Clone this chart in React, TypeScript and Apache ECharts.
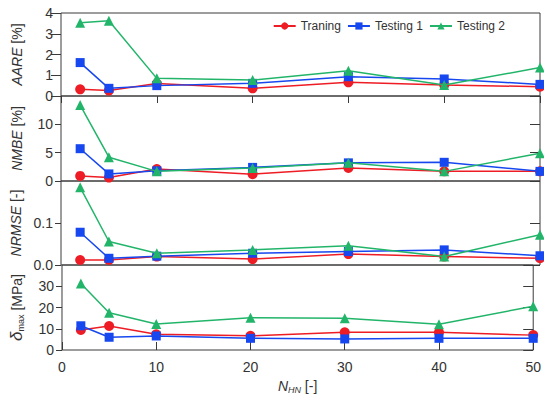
import React, { useEffect, useRef } from "react";
import * as echarts from "echarts";

const xValues = [2, 5, 10, 20, 30, 40, 50];
const seriesNames = ["Traning", "Testing 1", "Testing 2"];

const aareTraining = [0.32, 0.26, 0.6, 0.37, 0.66, 0.53, 0.45];
const aareTesting1 = [1.61, 0.37, 0.5, 0.61, 0.93, 0.82, 0.56];
const aareTesting2 = [3.53, 3.63, 0.85, 0.77, 1.22, 0.53, 1.37];

const nmbeTraining = [0.9, 0.6, 2.1, 1.2, 2.3, 1.7, 1.7];
const nmbeTesting1 = [5.7, 1.25, 1.8, 2.4, 3.2, 3.3, 1.7];
const nmbeTesting2 = [13.4, 4.2, 1.7, 2.3, 3.2, 1.7, 4.9];

const nrmseTraining = [0.012, 0.012, 0.02, 0.014, 0.026, 0.02, 0.016];
const nrmseTesting1 = [0.078, 0.016, 0.021, 0.028, 0.032, 0.036, 0.022];
const nrmseTesting2 = [0.185, 0.056, 0.028, 0.036, 0.046, 0.02, 0.072];

const deltaTraining = [9.4, 11.3, 7.4, 6.7, 8.3, 8.3, 7.0];
const deltaTesting1 = [11.4, 6.0, 6.6, 5.5, 5.2, 5.5, 5.5];
const deltaTesting2 = [31.3, 17.5, 12.2, 15.2, 14.9, 12.1, 20.6];

const xTicks = { min: 0, max: 50, interval: 10 };
const yScales = [
  { min: 0, max: 4, interval: 1 },
  { min: 0, max: 15, interval: 5 },
  { min: 0, max: 0.2, interval: 0.1 },
  { min: 0, max: 40, interval: 10 },
];
const yNames = ["{i|AARE} [%]", "{i|NMBE} [%]", "{i|NRMSE} [-]", "{i|δ}{s|max} [MPa]"];

const panels = [
  [aareTraining, aareTesting1, aareTesting2],
  [nmbeTraining, nmbeTesting1, nmbeTesting2],
  [nrmseTraining, nrmseTesting1, nrmseTesting2],
  [deltaTraining, deltaTesting1, deltaTesting2],
];

const colors = ["#ee1c24", "#1747ee", "#22b56a"];
const symbols = ["circle", "rect", "triangle"];
const symbolSizes = [10, 9, 10];

const FONT = "'Liberation Sans', Arial, sans-serif";
const TXT = "#333";

const gridBoxes = [
  { top: 13, height: 83 },
  { top: 96, height: 85 },
  { top: 181, height: 84 },
  { top: 265, height: 85 },
];

export default function App() {
  const ref = useRef<HTMLDivElement>(null);
  useEffect(() => {
    if (!ref.current) return;
    const chart = echarts.init(ref.current, null, { renderer: "svg" });

    const grid = gridBoxes.map((g) => ({
      left: 61,
      right: 4,
      top: g.top,
      height: g.height,
      show: true,
      borderColor: "#3a3a3a",
      borderWidth: 1,
      backgroundColor: "transparent",
    }));

    const xAxis: any[] = gridBoxes.map((_, i) => ({
      type: "value",
      gridIndex: i,
      ...xTicks,
      axisLine: { show: false },
      splitLine: { show: false },
      axisTick: { show: i === 3, inside: true, length: 8, lineStyle: { color: "#3a3a3a" } },
      axisLabel: {
        show: i === 3,
        fontSize: 14,
        color: TXT,
        fontFamily: FONT,
        margin: 10,
      },
      name: i === 3 ? "{i|N}{s|HN} [-]" : "",
      nameLocation: "middle",
      nameGap: 27,
      nameTextStyle: {
        fontSize: 14,
        color: TXT,
        fontFamily: FONT,
        rich: {
          i: { fontStyle: "italic", fontSize: 14, color: TXT, fontFamily: FONT },
          s: { fontStyle: "italic", fontSize: 9, color: TXT, fontFamily: FONT, verticalAlign: "bottom", padding: [8, 0, 0, 0] },
        },
      },
    }));
    xAxis.push({
      type: "value",
      gridIndex: 0,
      position: "top",
      ...xTicks,
      axisLine: { show: false },
      splitLine: { show: false },
      axisTick: { show: true, inside: true, length: 7, lineStyle: { color: "#3a3a3a" } },
      axisLabel: { show: false },
    });

    const yAxis: any[] = [];
    yScales.forEach((sc, i) => {
      yAxis.push({
        type: "value",
        gridIndex: i,
        ...sc,
        position: "left",
        axisLine: { show: false },
        splitLine: { show: false },
        axisTick: { show: true, inside: false, length: 6, lineStyle: { color: "#3a3a3a" } },
        axisLabel: {
          fontSize: 14,
          color: TXT,
          fontFamily: FONT,
          margin: 8,
          showMaxLabel: i === 0,
          formatter: (v: number) => (i === 2 ? v.toFixed(1) : String(v)),
        },
        name: yNames[i],
        nameLocation: "middle",
        nameGap: 37,
        nameTextStyle: {
          fontSize: 14,
          color: TXT,
          fontFamily: FONT,
          rich: {
            i: { fontStyle: "italic", fontSize: i === 3 ? 17 : 14, color: TXT, fontFamily: FONT },
            s: { fontSize: 9, color: TXT, fontFamily: FONT, verticalAlign: "bottom", padding: [8, 0, 0, 0] },
          },
        },
      });
    });
    yScales.forEach((sc, i) => {
      yAxis.push({
        type: "value",
        gridIndex: i,
        ...sc,
        position: "right",
        axisLine: { show: false },
        splitLine: { show: false },
        axisTick: { show: true, inside: true, length: 10, lineStyle: { color: "#3a3a3a" } },
        axisLabel: { show: false },
      });
    });

    const series: any[] = [];
    panels.forEach((arrs, p) => {
      arrs.forEach((arr, s) => {
        series.push({
          type: "line",
          name: seriesNames[s],
          xAxisIndex: p,
          yAxisIndex: p,
          data: xValues.map((x, k) => [x, arr[k]]),
          symbol: symbols[s],
          symbolSize: symbolSizes[s],
          clip: false,
          color: colors[s],
          lineStyle: { color: colors[s], width: 1.5 },
          itemStyle: { color: colors[s] },
          z: 2 + s,
        });
      });
    });

    chart.setOption({
      animation: false,
      backgroundColor: "#fff",
      textStyle: { fontFamily: FONT },
      legend: {
        data: seriesNames,
        right: 34,
        top: 15,
        itemWidth: 22,
        itemHeight: 9,
        itemGap: 6,
        textStyle: { fontSize: 12, color: TXT, fontFamily: FONT },
      },
      grid,
      xAxis,
      yAxis,
      series,
    });
    return () => chart.dispose();
  }, []);
  return (
    <div
      ref={ref}
      style={{ position: "fixed", left: 0, top: 0, width: 544, height: 403 }}
    />
  );
}
